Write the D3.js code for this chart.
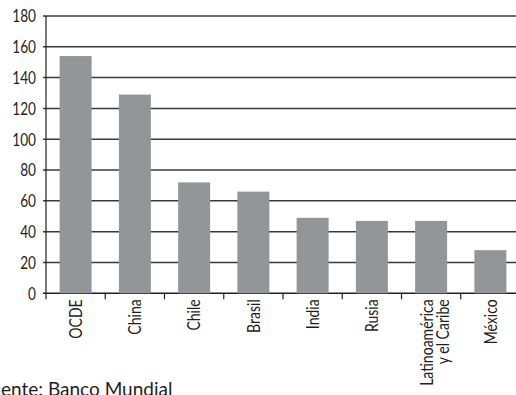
<!DOCTYPE html>
<html>
<head>
<meta charset="utf-8">
<script src="https://cdn.jsdelivr.net/npm/d3@7"></script>
<style>
  body { margin: 0; background: #fff; overflow: hidden; }
  svg { display: block; }
  text { font-family: Lato, "Open Sans", sans-serif; fill: #231f20; }
</style>
</head>
<body>
<svg id="chart" width="516" height="395"></svg>
<script>
// data
var categories = ["OCDE", "China", "Chile", "Brasil", "India", "Rusia", "Latinoamérica|y el Caribe", "México"];
var values = [154, 129, 72, 66, 49, 47, 47, 28];
var yTicks = [0, 20, 40, 60, 80, 100, 120, 140, 160, 180];
var source = "Fuente: Banco Mundial";

var margin = {top: 16, left: 46};
var width = 520 - margin.left,
    height = 293.3 - margin.top;
var squeeze = 0.78; // condensed look of the original typeface

var svg = d3.select("#chart");
var g = svg.append("g")
    .attr("transform", "translate(" + margin.left + "," + margin.top + ")");

var x = d3.scaleBand()
    .domain(categories)
    .range([0, width])
    .paddingInner(0.46)
    .paddingOuter(0.23);

var y = d3.scaleLinear()
    .domain([0, 180])
    .range([height, 0]);

// gridlines
g.selectAll("line.grid")
    .data(yTicks)
    .enter().append("line")
    .attr("class", "grid")
    .attr("x1", -3)
    .attr("x2", width)
    .attr("y1", function(d) { return y(d); })
    .attr("y2", function(d) { return y(d); })
    .attr("stroke", function(d) { return d === 0 ? "#231f20" : "#3a3a3a"; })
    .attr("stroke-width", 1.5);

// bars
g.selectAll("rect")
    .data(values)
    .enter().append("rect")
    .attr("x", function(d, i) { return x(categories[i]); })
    .attr("y", function(d) { return y(d); })
    .attr("width", x.bandwidth())
    .attr("height", function(d) { return height - y(d); })
    .style("fill", "#939598");

// y axis line
g.append("line")
    .attr("x1", 0).attr("x2", 0)
    .attr("y1", 0).attr("y2", height + 6)
    .attr("stroke", "#231f20")
    .attr("stroke-width", 1.2);

// y tick labels
g.selectAll("text.ylab")
    .data(yTicks)
    .enter().append("text")
    .attr("class", "ylab")
    .attr("transform", function(d) { return "translate(-10," + y(d) + ") scale(0.78,1)"; })
    .attr("dy", "0.36em")
    .attr("text-anchor", "end")
    .style("font-size", "17.5px")
    .text(function(d) { return d; });

// x ticks at band boundaries
g.selectAll("line.xtick")
    .data(d3.range(1, categories.length))
    .enter().append("line")
    .attr("class", "xtick")
    .attr("x1", function(i) { return i * x.step(); })
    .attr("x2", function(i) { return i * x.step(); })
    .attr("y1", height)
    .attr("y2", height + 6)
    .attr("stroke", "#231f20")
    .attr("stroke-width", 1.2);

// x labels, rotated
var xl = g.selectAll("g.xlab")
    .data(categories)
    .enter().append("g")
    .attr("class", "xlab")
    .attr("transform", function(d) {
        return "translate(" + (x(d) + x.bandwidth() / 2) + "," + (height + 6) + ") rotate(-90) scale(" + squeeze + ",1)";
    });

xl.each(function(d) {
    var parts = d.split("|");
    var t = d3.select(this).append("text")
        .attr("text-anchor", "end")
        .style("font-size", "18px");
    if (parts.length === 1) {
        t.attr("dy", "0.35em").text(parts[0]);
    } else {
        t.append("tspan").attr("x", 0).attr("dy", "0.1em").text(parts[0]);
        t.append("tspan").attr("x", 0).attr("dy", "0.9em").text(parts[1]);
    }
});

// source note, cut at the left edge like the original
var note = svg.append("text")
    .attr("y", 396)
    .style("font-size", "19px")
    .text(source);
var cut = note.node().getSubStringLength(0, 2);
note.attr("x", -cut + 1);
</script>
</body>
</html>
